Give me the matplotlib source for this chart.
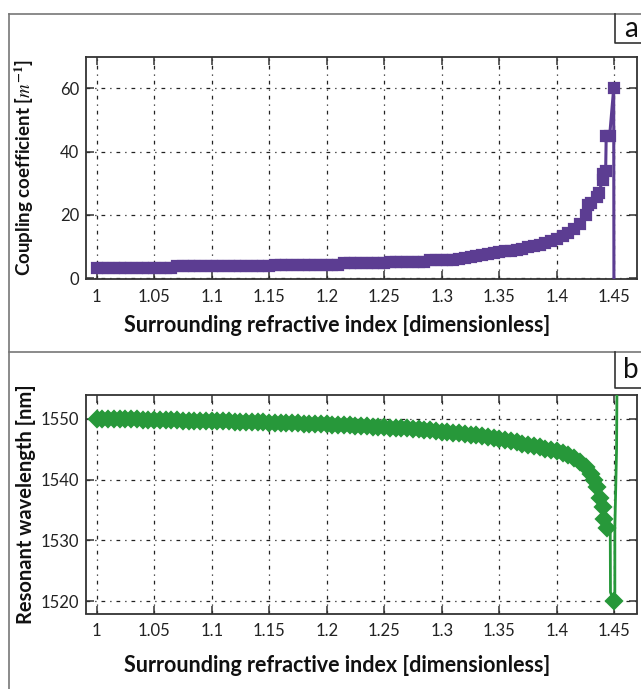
import matplotlib
matplotlib.use("Agg")
import matplotlib.pyplot as plt
from matplotlib.lines import Line2D

# refractive index grid (shared by both panels up to 1.40)
n_grid = [1.000, 1.005, 1.010, 1.015, 1.020, 1.025, 1.030, 1.035, 1.040, 1.045,
          1.050, 1.055, 1.060, 1.065, 1.070, 1.075, 1.080, 1.085, 1.090, 1.095,
          1.100, 1.105, 1.110, 1.115, 1.120, 1.125, 1.130, 1.135, 1.140, 1.145,
          1.150, 1.155, 1.160, 1.165, 1.170, 1.175, 1.180, 1.185, 1.190, 1.195,
          1.200, 1.205, 1.210, 1.215, 1.220, 1.225, 1.230, 1.235, 1.240, 1.245,
          1.250, 1.255, 1.260, 1.265, 1.270, 1.275, 1.280, 1.285, 1.290, 1.295,
          1.300, 1.305, 1.310, 1.315, 1.320, 1.325, 1.330, 1.335, 1.340, 1.345,
          1.350, 1.355, 1.360, 1.365, 1.370, 1.375, 1.380, 1.385, 1.390, 1.395,
          1.400]

# panel a: coupling coefficient
kappa_grid = [3.2, 3.2, 3.2, 3.2, 3.2, 3.2, 3.2, 3.2, 3.2, 3.2,
              3.2, 3.2, 3.2, 3.2, 3.7, 3.7, 3.7, 3.7, 3.7, 3.7,
              3.7, 3.7, 3.7, 3.7, 3.7, 3.7, 3.7, 3.7, 3.7, 3.7,
              3.7, 4.2, 4.2, 4.2, 4.2, 4.2, 4.2, 4.2, 4.2, 4.2,
              4.2, 4.2, 4.2, 4.7, 4.7, 4.7, 4.7, 4.7, 4.7, 4.7,
              4.7, 5.2, 5.2, 5.2, 5.2, 5.2, 5.2, 5.2, 5.7, 5.7,
              5.7, 5.7, 5.7, 6.0, 6.3, 6.6, 6.9, 7.2, 7.5, 7.8,
              8.1, 8.4, 8.7, 9.0, 9.3, 9.7, 10.1, 10.5, 11.0, 11.6,
              12.3]
n_a_tail = [1.405, 1.41, 1.415, 1.42, 1.425, 1.4275, 1.43, 1.435, 1.4365, 1.44,
            1.4405, 1.4425, 1.443, 1.446, 1.4495, 1.4497]
kappa_tail = [13.2, 14.3, 15.6, 17.2, 20.0, 23.0, 23.8, 25.5, 27.0, 31.0,
              33.0, 34.0, 45.0, 45.0, 60.0, -3.0]

# panel b: resonant wavelength
wl_grid = [1550.0, 1550.0, 1550.0, 1549.95, 1549.95, 1549.9, 1549.9, 1549.9, 1549.85, 1549.85,
           1549.8, 1549.8, 1549.8, 1549.75, 1549.75, 1549.7, 1549.7, 1549.7, 1549.65, 1549.65,
           1549.6, 1549.6, 1549.55, 1549.55, 1549.5, 1549.5, 1549.45, 1549.45, 1549.4, 1549.4,
           1549.35, 1549.35, 1549.3, 1549.3, 1549.25, 1549.25, 1549.2, 1549.2, 1549.15, 1549.1,
           1549.1, 1549.05, 1549.0, 1548.95, 1548.9, 1548.85, 1548.8, 1548.75, 1548.7, 1548.65,
           1548.6, 1548.55, 1548.5, 1548.45, 1548.4, 1548.35, 1548.3, 1548.2, 1548.1, 1548.0,
           1547.9, 1547.8, 1547.7, 1547.6, 1547.5, 1547.4, 1547.3, 1547.15, 1547.0, 1546.85,
           1546.7, 1546.5, 1546.3, 1546.1, 1545.9, 1545.7, 1545.5, 1545.3, 1545.1, 1544.9,
           1544.7]
n_b_tail = [1.405, 1.41, 1.415, 1.42, 1.425, 1.43, 1.4325, 1.435, 1.4375, 1.44,
            1.4415, 1.4435, 1.4465, 1.4467, 1.4495, 1.4505, 1.4505, 1.452, 1.4525]
wl_tail = [1544.4, 1544.0, 1543.5, 1542.9, 1542.1, 1541.0, 1540.0, 1538.8, 1537.0, 1535.5,
           1533.5, 1532.0, 1531.5, 1521.5, 1520.0, 1521.5, 1532.0, 1545.0, 1560.0]

x_ticks = [1.0, 1.05, 1.1, 1.15, 1.2, 1.25, 1.3, 1.35, 1.4, 1.45]
x_ticklabels = ["1", "1.05", "1.1", "1.15", "1.2", "1.25", "1.3", "1.35", "1.4", "1.45"]
a_yticks = [0, 20, 40, 60]
b_yticks = [1520, 1530, 1540, 1550]

n_a = n_grid + n_a_tail
kappa = kappa_grid + kappa_tail
n_b = n_grid + n_b_tail
wl = wl_grid + wl_tail

# which points carry a marker (the connecting drop/rise segments carry none)
mark_a = list(range(len(n_a) - 1))
mark_b = [i for i in range(len(n_b)) if n_b[i] not in (1.4465, 1.4467, 1.4505, 1.452, 1.4525)]

purple = "#5c3d92"
green = "#27983a"

plt.rcParams["font.family"] = ["Lato", "DejaVu Sans"]
plt.rcParams["mathtext.fontset"] = "stix"

W, H = 641, 689
fig = plt.figure(figsize=(W / 100, H / 100), dpi=100)


def fx(px):
    return px / W


def fy(py):
    return 1 - py / H


ax_a = fig.add_axes([fx(86), fy(279), fx(636.7) - fx(86), fy(56.7) - fy(279)])
ax_b = fig.add_axes([fx(86), fy(613.5), fx(636.7) - fx(86), fy(395) - fy(613.5)])

ax_a.plot(n_a, kappa, color=purple, lw=2.2, marker="s", ms=7, mew=1.6,
          mfc=purple, mec=purple, markevery=mark_a, zorder=3)
ax_b.plot(n_b, wl, color=green, lw=2.0, marker="D", ms=8, mew=1.6,
          mfc=green, mec=green, markevery=mark_b, zorder=3)

ax_a.set_ylim(-0.3, 70)
ax_b.set_ylim(1518, 1553.9)
ax_a.set_yticks(a_yticks)
ax_b.set_yticks(b_yticks)

for ax in (ax_a, ax_b):
    ax.set_xlim(0.9907, 1.4695)
    ax.set_xticks(x_ticks)
    ax.set_xticklabels(x_ticklabels)
    ax.grid(True, color="#222222", lw=0.9, linestyle=(0, (3, 4, 1, 4)))
    ax.tick_params(direction="in", top=True, right=True, length=6, width=1.1,
                   color="#333333", labelsize=12, labelcolor="#222222", pad=7)
    ax.tick_params(axis="y", pad=5)
    for s in ax.spines.values():
        s.set_color("#333333")
        s.set_linewidth(1.3)
    ax.set_xlabel("Surrounding refractive index [dimensionless]", fontsize=15.5,
                  fontweight="bold", color="#111111")
ax_a.xaxis.set_label_coords(0.456, -0.16)
ax_b.xaxis.set_label_coords(0.456, -0.19)

ax_a.set_ylabel(r"Coupling coefficient [$m^{\mathbf{-1}}$]", fontsize=13.5,
                fontweight="bold", color="#111111")
ax_b.set_ylabel("Resonant wavelength [nm]", fontsize=14.5, fontweight="bold",
                color="#111111")
ax_a.yaxis.set_label_coords(-0.091, 0.5)
ax_b.yaxis.set_label_coords(-0.091, 0.5)

# outer panel frames and the a / b label boxes
frame_kw = dict(transform=fig.transFigure, color="#777777", lw=1.2)
fig.add_artist(Line2D([fx(8.5), 1], [fy(14), fy(14)], **frame_kw))
fig.add_artist(Line2D([fx(8.5), fx(8.5)], [fy(14), 0], **frame_kw))
fig.add_artist(Line2D([fx(8.5), 1], [fy(352), fy(352)], **frame_kw))

box_kw = dict(transform=fig.transFigure, color="#333333", lw=1.2)
fig.add_artist(Line2D([fx(615), fx(615), 1], [fy(14), fy(43), fy(43)], **box_kw))
fig.add_artist(Line2D([fx(615), fx(615), 1], [fy(352), fy(388), fy(388)], **box_kw))
fig.text(fx(631), fy(29), "a", fontsize=20, ha="center", va="center", color="#111111")
fig.text(fx(631), fy(370), "b", fontsize=20, ha="center", va="center", color="#111111")

fig.savefig("out.png", dpi=100)
